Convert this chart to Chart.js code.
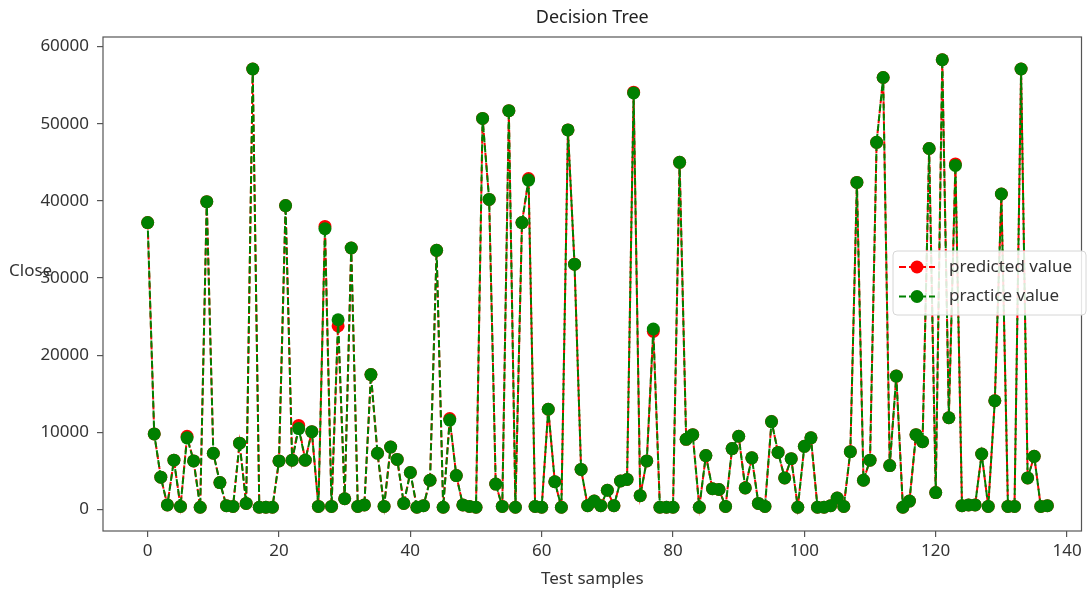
<!DOCTYPE html>
<html>
<head>
<meta charset="utf-8">
<title>Decision Tree</title>
<script src="https://cdn.jsdelivr.net/npm/chart.js@4.4.1/dist/chart.umd.min.js"></script>
<style>
    html, body { margin: 0; padding: 0; background: #fff; }
    #chart { display: block; }
</style>
</head>
<body>
<canvas id="chart" width="1088" height="593"></canvas>
<script>
// Chart data
const practiceValues = [
    37200, 9800, 4200, 600, 6400, 400, 9300, 6300, 300, 39900,
    7300, 3500, 500, 400, 8600, 800, 57100, 300, 300, 300,
    6300, 39400, 6400, 10500, 6400, 10100, 400, 36400, 400, 24600,
    1400, 33900, 400, 600, 17500, 7300, 400, 8100, 6500, 800,
    4800, 300, 500, 3800, 33600, 300, 11600, 4400, 600, 400,
    300, 50700, 40200, 3300, 400, 51700, 300, 37200, 42700, 400,
    300, 13000, 3600, 300, 49200, 31800, 5200, 500, 1100, 500,
    2500, 500, 3700, 3900, 54000, 1800, 6300, 23400, 300, 300,
    300, 45000, 9100, 9700, 300, 7000, 2700, 2600, 400, 7900,
    9500, 2800, 6700, 800, 400, 11400, 7400, 4100, 6600, 300,
    8200, 9300, 300, 300, 500, 1500, 400, 7500, 42400, 3800,
    6400, 47600, 56000, 5700, 17300, 300, 1100, 9700, 8800, 46800,
    2200, 58300, 11900, 44600, 500, 600, 600, 7200, 400, 14100,
    40900, 400, 400, 57100, 4100, 6900, 400, 500
];
const predictedValues = [
    37200, 9800, 4200, 600, 6400, 400, 9500, 6300, 300, 39900,
    7300, 3500, 500, 400, 8600, 800, 57100, 300, 300, 300,
    6300, 39400, 6400, 10900, 6400, 10100, 400, 36700, 400, 23800,
    1400, 33900, 400, 600, 17500, 7300, 400, 8100, 6500, 800,
    4800, 300, 500, 3800, 33600, 300, 11800, 4400, 600, 400,
    300, 50700, 40200, 3300, 400, 51700, 300, 37200, 42900, 400,
    300, 13000, 3600, 300, 49200, 31800, 5200, 500, 1100, 500,
    2500, 500, 3700, 3900, 54100, 1800, 6300, 23100, 300, 300,
    300, 45000, 9100, 9700, 300, 7000, 2700, 2600, 400, 7900,
    9500, 2800, 6700, 800, 400, 11400, 7400, 4100, 6600, 300,
    8200, 9300, 300, 300, 500, 1500, 400, 7500, 42400, 3800,
    6400, 47600, 56000, 5700, 17300, 300, 1100, 9700, 8800, 46800,
    2200, 58300, 11900, 44800, 500, 600, 600, 7200, 400, 14100,
    40900, 400, 400, 57100, 4100, 6900, 400, 500
];
const sampleIndex = practiceValues.map((_, i) => i);
const xTicks = [0, 20, 40, 60, 80, 100, 120, 140];
const yTicks = [0, 10000, 20000, 30000, 40000, 50000, 60000];
const legendLabels = ['predicted value', 'practice value'];

const FONT = '"Noto Sans", "Open Sans", sans-serif';
const TEXT = '#333';
const AXIS = '#555';

function toPoints(values) {
    return values.map((v, i) => ({ x: sampleIndex[i], y: v }));
}

// Frame, titles and legend drawn on top of the plot
const decorations = {
    id: 'decorations',
    afterDraw(chart) {
        const { ctx, chartArea: a } = chart;
        ctx.save();

        // axes box
        ctx.strokeStyle = AXIS;
        ctx.lineWidth = 1.2;
        ctx.strokeRect(a.left, a.top, a.right - a.left, a.bottom - a.top);

        ctx.fillStyle = '#222';
        ctx.textAlign = 'center';
        ctx.textBaseline = 'middle';
        ctx.font = '18px ' + FONT;
        ctx.fillText('Decision Tree', (a.left + a.right) / 2, 18);

        ctx.fillStyle = TEXT;
        ctx.font = '17px ' + FONT;
        ctx.fillText('Test samples', (a.left + a.right) / 2, 579);
        ctx.textAlign = 'left';
        ctx.fillText('Close', 9, 271);

        // legend
        const lx = 893, ly = 251, lw = 193, lh = 64;
        ctx.fillStyle = 'rgba(255,255,255,0.85)';
        ctx.strokeStyle = '#d6d6d6';
        ctx.lineWidth = 1;
        ctx.beginPath();
        ctx.roundRect(lx, ly, lw, lh, 4);
        ctx.fill();
        ctx.stroke();

        const colors = ['#ff0000', '#008000'];
        legendLabels.forEach((label, k) => {
            const y = 267 + k * 29.5;
            ctx.strokeStyle = colors[k];
            ctx.lineWidth = 2;
            ctx.setLineDash([7, 3]);
            ctx.beginPath();
            ctx.moveTo(899, y);
            ctx.lineTo(935, y);
            ctx.stroke();
            ctx.setLineDash([]);
            ctx.fillStyle = colors[k];
            ctx.beginPath();
            ctx.arc(917, y, 6.5, 0, Math.PI * 2);
            ctx.fill();
            ctx.fillStyle = TEXT;
            ctx.font = '17px ' + FONT;
            ctx.textAlign = 'left';
            ctx.fillText(label, 949, y);
        });

        ctx.restore();
    }
};

new Chart(document.getElementById('chart'), {
    type: 'line',
    data: {
        datasets: [
            {
                label: legendLabels[0],
                data: toPoints(predictedValues),
                order: 2,
                borderColor: '#ff0000',
                backgroundColor: '#ff0000',
                borderWidth: 2,
                borderDash: [7, 3],
                pointRadius: 6.5,
                pointBorderWidth: 0,
                pointBackgroundColor: '#ff0000',
                tension: 0
            },
            {
                label: legendLabels[1],
                data: toPoints(practiceValues),
                order: 1,
                borderColor: '#008000',
                backgroundColor: '#008000',
                borderWidth: 2,
                borderDash: [7, 3],
                borderDashOffset: 2,
                pointRadius: 6.5,
                pointBorderWidth: 0,
                pointBackgroundColor: '#008000',
                tension: 0
            }
        ]
    },
    options: {
        responsive: false,
        animation: false,
        devicePixelRatio: 1,
        layout: { padding: { top: 37, right: 2, left: 0, bottom: 0 } },
        plugins: {
            legend: { display: false },
            title: { display: false },
            tooltip: { enabled: false }
        },
        scales: {
            x: {
                type: 'linear',
                min: -6.8,
                max: 142.2,
                afterFit: scale => { scale.height = 62; },
                afterBuildTicks: scale => { scale.ticks = xTicks.map(v => ({ value: v })); },
                grid: { drawOnChartArea: false, drawTicks: true, tickLength: 6, color: AXIS, lineWidth: 1.2 },
                border: { display: false },
                ticks: {
                    color: TEXT,
                    padding: 4,
                    maxRotation: 0,
                    font: { family: FONT, size: 17 },
                    callback: v => String(v)
                }
            },
            y: {
                type: 'linear',
                min: -2780,
                max: 61250,
                afterFit: scale => { scale.width = 103; },
                afterBuildTicks: scale => { scale.ticks = yTicks.map(v => ({ value: v })); },
                grid: { drawOnChartArea: false, drawTicks: true, tickLength: 6, color: AXIS, lineWidth: 1.2 },
                border: { display: false },
                ticks: {
                    color: TEXT,
                    padding: 8,
                    font: { family: FONT, size: 17 },
                    callback: v => String(v)
                }
            }
        }
    },
    plugins: [decorations]
});
</script>
</body>
</html>
